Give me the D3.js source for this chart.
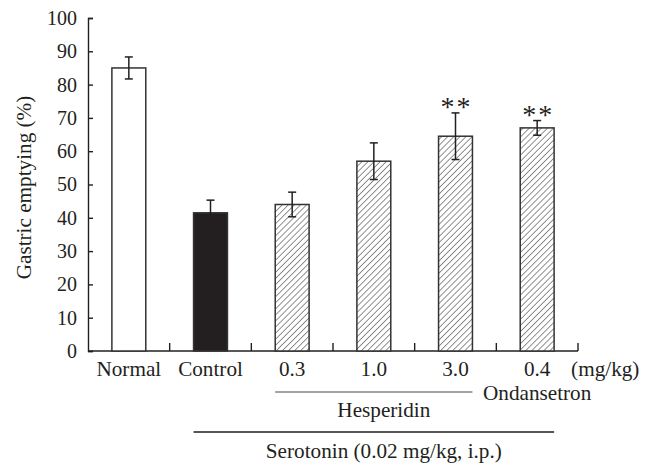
<!DOCTYPE html>
<html><head><meta charset="utf-8">
<script src="https://cdn.jsdelivr.net/npm/d3@7/dist/d3.min.js"></script>
<style>body{margin:0;background:#fff}svg{display:block}text{font-family:"Liberation Serif","DejaVu Serif",serif;fill:#231f20}</style>
</head><body>
<script>
const categories = ["Normal","Control","0.3","1.0","3.0","0.4"];
const means = [85, 41.5, 44, 57, 64.5, 67];
const errors = [3.3, 3.8, 3.7, 5.5, 7, 2.2];
const fills = ["white","solid","hatch","hatch","hatch","hatch"];
const marks = ["","","","","**","**"];
const yTicks = [0,10,20,30,40,50,60,70,80,90,100];
const yTitle = "Gastric emptying (%)";
const unitLabel = "(mg/kg)";
const groupLabels = {hesperidin:"Hesperidin", ondansetron:"Ondansetron", serotonin:"Serotonin (0.02 mg/kg, i.p.)"};

const W=651,H=465, mLeft=88, mRight=578, mTop=18, mBottom=351;
const ink="#231f20";
const serif="Liberation Serif";
const fs=21.2;
const svg=d3.select("body").append("svg").attr("width",W).attr("height",H);
const defs=svg.append("defs");
const pw=4.3;
const pat=defs.append("pattern").attr("id","hatch").attr("patternUnits","userSpaceOnUse")
  .attr("width",pw).attr("height",pw).attr("patternTransform","rotate(45)");
pat.append("rect").attr("width",pw).attr("height",pw).attr("fill","white");
pat.append("line").attr("x1",0).attr("y1",0).attr("x2",0).attr("y2",pw).attr("stroke","#222").attr("stroke-width",1.0);

const x=d3.scaleBand().domain(categories).range([mLeft,mRight]).paddingInner(0.585).paddingOuter(0.2925);
const y=d3.scaleLinear().domain([0,100]).range([mBottom,mTop]);

// y axis
const ya=svg.append("g").attr("transform",`translate(${mLeft},0)`)
  .call(d3.axisLeft(y).tickValues(yTicks).tickSize(-5).tickPadding(11));
ya.attr("font-family",serif);
ya.select(".domain").attr("stroke",ink).attr("stroke-width",1.4);
ya.selectAll(".tick line").attr("stroke",ink).attr("stroke-width",1.4);
ya.selectAll(".tick text").attr("font-size",20).attr("fill",ink).attr("font-family",serif);

// x axis line + inner ticks at band boundaries
svg.append("line").attr("x1",mLeft).attr("x2",mRight).attr("y1",mBottom).attr("y2",mBottom).attr("stroke",ink).attr("stroke-width",1.4);
const bounds=d3.range(1,categories.length+1).map(i=>mLeft+i*x.step());
svg.selectAll(".xt").data(bounds).join("line").attr("x1",d=>d).attr("x2",d=>d)
  .attr("y1",mBottom).attr("y2",mBottom-8).attr("stroke",ink).attr("stroke-width",1.4);

// bars
svg.selectAll(".bar").data(categories).join("rect")
  .attr("x",d=>x(d)).attr("width",x.bandwidth())
  .attr("y",(d,i)=>y(means[i])).attr("height",(d,i)=>y(0)-y(means[i]))
  .attr("fill",(d,i)=>fills[i]==="solid"?ink:fills[i]==="hatch"?"url(#hatch)":"white")
  .attr("stroke","#333").attr("stroke-width",1.5);

// error bars
const cx=d=>x(d)+x.bandwidth()/2;
const eg=svg.append("g").attr("stroke",ink).attr("stroke-width",1.5);
categories.forEach((c,i)=>{
  const t=y(means[i]+errors[i]), b=y(means[i]-errors[i]);
  eg.append("line").attr("x1",cx(c)).attr("x2",cx(c)).attr("y1",t).attr("y2",b);
  eg.append("line").attr("x1",cx(c)-4).attr("x2",cx(c)+4).attr("y1",t).attr("y2",t);
  eg.append("line").attr("x1",cx(c)-4).attr("x2",cx(c)+4).attr("y1",b).attr("y2",b);
});

// significance marks
svg.selectAll(".sig").data(categories).join("text")
  .attr("x",d=>cx(d)+1).attr("y",(d,i)=>y(means[i]+errors[i])+3)
  .attr("text-anchor","middle").attr("font-size",28).attr("letter-spacing",2).attr("font-family",serif)
  .text((d,i)=>marks[i]);

// category labels
svg.selectAll(".cl").data(categories).join("text")
  .attr("x",d=>cx(d)).attr("y",376).attr("text-anchor","middle").attr("font-size",fs).attr("font-family",serif)
  .text(d=>d);
svg.append("text").attr("x",x("0.4")+x.bandwidth()+17).attr("y",376).attr("font-size",fs).attr("font-family",serif).text(unitLabel);

// group lines
const hx1=x("0.3"), hx2=x("3.0")+x.bandwidth();
svg.append("line").attr("x1",hx1).attr("x2",hx2).attr("y1",392).attr("y2",392).attr("stroke","#444").attr("stroke-width",1.1);
svg.append("text").attr("x",(hx1+hx2)/2+10).attr("y",417).attr("text-anchor","middle").attr("font-size",fs).attr("font-family",serif).text(groupLabels.hesperidin);
svg.append("text").attr("x",cx("0.4")).attr("y",400).attr("text-anchor","middle").attr("font-size",fs).attr("font-family",serif).text(groupLabels.ondansetron);
const sx1=x("Control"), sx2=x("0.4")+x.bandwidth();
svg.append("line").attr("x1",sx1).attr("x2",sx2).attr("y1",432).attr("y2",432).attr("stroke","#555").attr("stroke-width",1.8);
svg.append("text").attr("x",(sx1+sx2)/2+10).attr("y",458).attr("text-anchor","middle").attr("font-size",fs).attr("font-family",serif).text(groupLabels.serotonin);

// y title
svg.append("text").attr("transform",`translate(31,${(mTop+mBottom)/2+3}) rotate(-90)`)
  .attr("text-anchor","middle").attr("font-size",fs).attr("font-family",serif).text(yTitle);
</script>
</body></html>
